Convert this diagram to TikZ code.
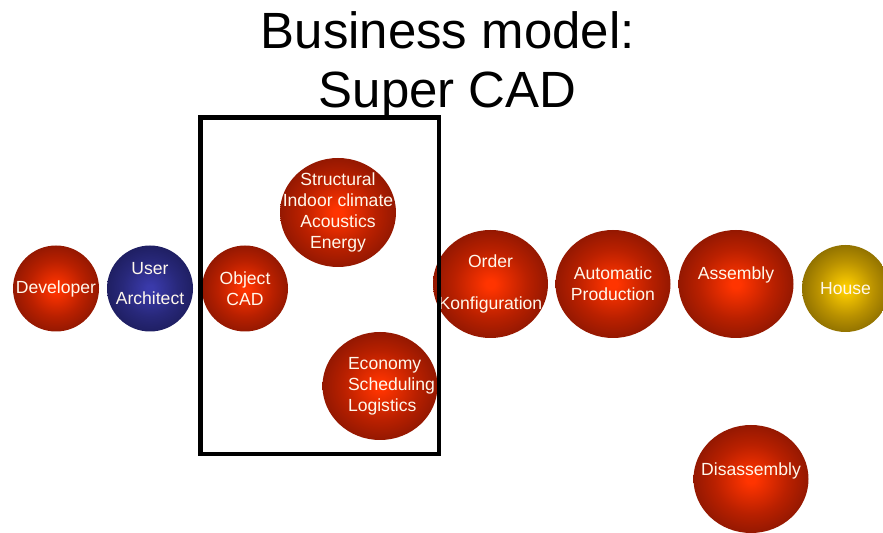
\documentclass[tikz,border=0pt]{standalone}
\usepackage{fontspec}
\setmainfont{Liberation Sans}
\usepackage{xcolor}
\usetikzlibrary{shapes.geometric}
\definecolor{redin}{RGB}{255,52,0}
\definecolor{redmid}{RGB}{185,32,0}
\definecolor{redout}{RGB}{112,16,2}
\definecolor{bluein}{RGB}{58,58,170}
\definecolor{bluemid}{RGB}{40,40,122}
\definecolor{blueout}{RGB}{22,22,76}
\definecolor{goldin}{RGB}{252,204,0}
\definecolor{goldmid}{RGB}{185,145,0}
\definecolor{goldout}{RGB}{108,85,0}
\definecolor{balltext}{RGB}{255,248,236}
\pgfdeclareradialshading{redshade}{\pgfpointorigin}{color(0bp)=(redin); color(2bp)=(redin); color(16bp)=(redmid); color(34bp)=(redout); color(50bp)=(redout)}
\pgfdeclareradialshading{blueshade}{\pgfpointorigin}{color(0bp)=(bluein); color(2bp)=(bluein); color(16bp)=(bluemid); color(34bp)=(blueout); color(50bp)=(blueout)}
\pgfdeclareradialshading{goldshade}{\pgfpointorigin}{color(0bp)=(goldin); color(2bp)=(goldin); color(16bp)=(goldmid); color(34bp)=(goldout); color(50bp)=(goldout)}
\tikzset{
	ball/.style={ellipse, text=balltext, font=\fontsize{15}{18}\selectfont, align=center, inner sep=-3cm, minimum width=2.58cm, minimum height=2.58cm},
	bigball/.style={ball, minimum width=3.45cm, minimum height=3.24cm},
	redball/.style={shading=redshade},
	blueball/.style={shading=blueshade},
	goldball/.style={shading=goldshade},
	titletext/.style={font=\fontsize{43.5}{50}\selectfont, inner sep=0pt}
}

\begin{document}
\begin{tikzpicture}
				% Paths, nodes and frame:
				\useasboundingbox (0, 0) rectangle (26.49, 15.99);
				\clip (0, 0) rectangle (26.49, 15.99);
				\node[titletext, anchor=base](N11) at (13.43, 14.52){Business model:};
				\node[titletext, anchor=base](N12) at (13.43, 12.75){Super CAD};
				\node[ball, redball](N1) at (1.68, 7.335){Developer};
				\node[ball, blueball, text depth=9pt](N2) at (4.5, 7.335){User\\[8pt]Architect};
				\node[ball, redball](N3) at (7.35, 7.335){Object\\CAD};
				\node[bigball, redball, minimum width=3.48cm, minimum height=3.27cm](N4) at (10.14, 9.615){Structural\\Indoor climate\\Acoustics\\Energy};
				\node[bigball, redball, align=left, text width=1.92cm](N5) at (11.4, 4.41){\mbox{Economy}\\\mbox{Scheduling}\\\mbox{Logistics}};
				\node[bigball, redball](N6) at (14.715, 7.47){Order\\[18pt]Konfiguration};
				\node[bigball, redball](N7) at (18.39, 7.47){Automatic\\Production};
				\node[bigball, redball, text depth=18pt](N8) at (22.08, 7.47){Assembly};
				\node[ball, goldball, minimum width=2.61cm, minimum height=2.61cm](N9) at (25.365, 7.335){House};
				\node[bigball, redball, text depth=16pt](N10) at (22.53, 1.62){Disassembly};
				\draw[line width=4pt] (6.015, 12.465) rectangle (13.17, 2.37);
			\end{tikzpicture}
\end{document}
